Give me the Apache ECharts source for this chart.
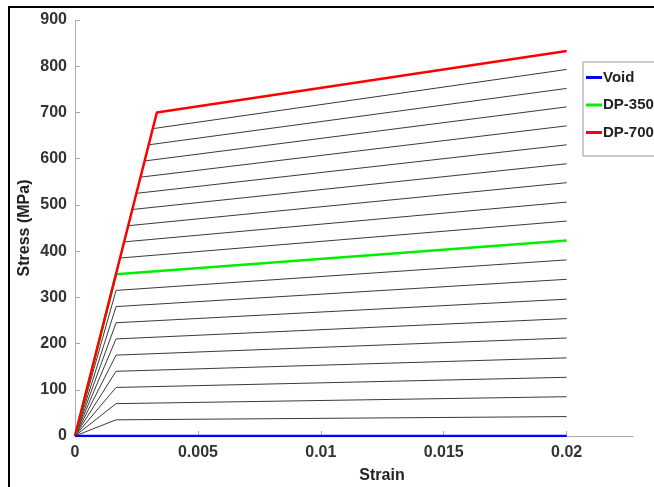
<!DOCTYPE html>
<html>
<head>
<meta charset="utf-8">
<script src="https://cdn.jsdelivr.net/npm/echarts@6/dist/echarts.min.js"></script>
<style>
html,body{margin:0;padding:0;background:#fff;}
#chart{width:654px;height:487px;}
</style>
</head>
<body>
<div id="chart"></div>
<script>
// X tick labels
const xTicks = [0, 0.005, 0.01, 0.015, 0.02];
// Black intermediate curves below DP-350: [yield strain, yield stress, end strain, end stress]
const lowYieldStrain = [0.00167, 0.00167, 0.00167, 0.00167, 0.00167, 0.00167, 0.00167, 0.00167, 0.00167];
const lowYieldStress = [35, 70, 105, 140, 175, 210, 245, 280, 315];
const lowEndStress   = [42, 85, 127, 169, 212, 254, 296, 339, 381];
// Black intermediate curves between DP-350 and DP-700
const highYieldStrain = [0.00183, 0.0020, 0.00217, 0.00233, 0.0025, 0.00267, 0.00283, 0.0030, 0.00317];
const highYieldStress = [385, 420, 455, 490, 525, 560, 595, 630, 665];
const highEndStress   = [465, 506, 548, 589, 630, 671, 712, 752, 793];
const endStrain = 0.02;
// Named curves
const voidStrain = [0, 0.02];
const voidStress = [0, 0];
const dp350Strain = [0, 0.00167, 0.02];
const dp350Stress = [0, 350, 423];
const dp700Strain = [0, 0.00333, 0.02];
const dp700Stress = [0, 700, 833];

const zip = (xs, ys) => xs.map((x, i) => [x, ys[i]]);

const series = [];
function addBlack(ys, ss, es) {
  for (let i = 0; i < ys.length; i++) {
    series.push({
      type: 'line', silent: true, symbol: 'none', z: 1,
      lineStyle: {color: '#3a3a3a', width: 1},
      data: [[0, 0], [ys[i], ss[i]], [endStrain, es[i]]]
    });
  }
}
addBlack(lowYieldStrain, lowYieldStress, lowEndStress);
addBlack(highYieldStrain, highYieldStress, highEndStress);
series.push({name: 'DP-350', type: 'line', symbol: 'none', z: 3,
  lineStyle: {color: '#00ee00', width: 2.5}, itemStyle: {color: '#00ee00'},
  data: zip(dp350Strain, dp350Stress)});
series.push({name: 'DP-700', type: 'line', symbol: 'none', z: 4,
  lineStyle: {color: '#ff0000', width: 2.5}, itemStyle: {color: '#ff0000'},
  data: zip(dp700Strain, dp700Stress)});
series.push({name: 'Void', type: 'line', symbol: 'none', z: 5,
  lineStyle: {color: '#0000ff', width: 2.5}, itemStyle: {color: '#0000ff'},
  data: zip(voidStrain, voidStress)});

const chart = echarts.init(document.getElementById('chart'), null, {renderer: 'canvas', width: 654, height: 487});
const labelFont = {fontFamily: 'Liberation Sans, Arial, sans-serif', fontWeight: 'bold', fontSize: 16, color: '#333'};
chart.setOption({
  animation: false,
  backgroundColor: '#fff',
  grid: {left: 75, top: 20, width: 558, height: 416, containLabel: false, outerBoundsMode: 'none'},
  legend: {
    data: ['Void', 'DP-350', 'DP-700'],
    orient: 'vertical', left: 583, top: 62,
    backgroundColor: '#fff', borderColor: '#999', borderWidth: 1,
    padding: [8, 60, 16, 3], itemGap: 12.5,
    icon: 'rect', itemWidth: 16, itemHeight: 3,
    textStyle: {fontFamily: 'Liberation Sans, Arial, sans-serif', fontWeight: 'bold', fontSize: 15, color: '#222', padding: [0, 0, 0, -4]}
  },
  xAxis: {
    type: 'value', min: 0, max: 0.0227,
    name: 'Strain', nameLocation: 'middle', nameGap: 32, nameMoveOverlap: false,
    nameTextStyle: Object.assign({}, labelFont, {color: '#222', padding: [0, 0, 0, 56]}),
    axisLine: {show: true, lineStyle: {color: '#aaa', width: 1}},
    axisTick: {show: true, inside: true, length: 5, lineStyle: {color: '#aaa'}, customValues: xTicks},
    axisLabel: Object.assign({margin: 9, customValues: xTicks, formatter: v => String(+v.toFixed(3))}, labelFont),
    splitLine: {show: false}
  },
  yAxis: {
    type: 'value', min: 0, max: 900, interval: 100,
    name: 'Stress (MPa)', nameLocation: 'middle', nameGap: 42, nameMoveOverlap: false,
    nameTextStyle: Object.assign({}, labelFont, {color: '#222'}),
    axisLine: {show: true, lineStyle: {color: '#aaa', width: 1}},
    axisTick: {show: true, inside: true, length: 5, lineStyle: {color: '#aaa'}},
    axisLabel: Object.assign({margin: 8}, labelFont),
    splitLine: {show: false}
  },
  graphic: [{
    type: 'rect', silent: true, z: 100,
    shape: {x: 9, y: 7, width: 700, height: 600},
    style: {fill: 'none', stroke: '#000', lineWidth: 2}
  }],
  series: series
});
</script>
</body>
</html>
